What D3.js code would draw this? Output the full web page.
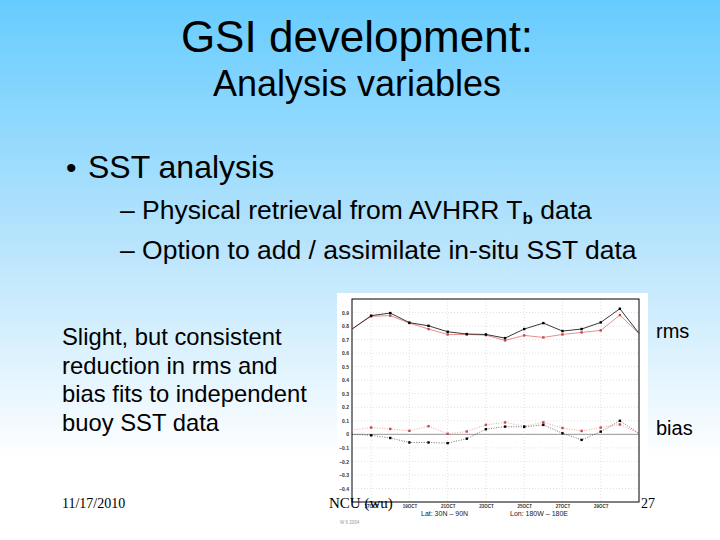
<!DOCTYPE html>
<html>
<head>
<meta charset="utf-8">
<script src="https://cdn.jsdelivr.net/npm/d3@7"></script>
<style>
  body { margin: 0; background: #fff; }
  svg text { font-family: "Liberation Sans", Arial, sans-serif; }
</style>
</head>
<body>
<div id="chartContainer"></div>
<script type="text/javascript">
    // days of October, one point per day
    var days = [16, 17, 18, 19, 20, 21, 22, 23, 24, 25, 26, 27, 28, 29, 30, 31];
    var tickDays = [17, 19, 21, 23, 25, 27, 29];
    var yTicks = [0.9, 0.8, 0.7, 0.6, 0.5, 0.4, 0.3, 0.2, 0.1, 0, -0.1, -0.2, -0.3, -0.4];

    // rms and bias vs buoy SST (black = control, red = with in-situ)
    var rmsBlack = [0.778, 0.877, 0.896, 0.825, 0.802, 0.758, 0.741, 0.738, 0.711, 0.778, 0.822, 0.763, 0.778, 0.827, 0.928, 0.746];
    var rmsRed   = [0.778, 0.872, 0.877, 0.822, 0.778, 0.738, 0.738, 0.733, 0.694, 0.731, 0.716, 0.738, 0.753, 0.768, 0.881, 0.745];
    var biasBlack = [0.0, -0.007, -0.027, -0.060, -0.060, -0.065, -0.032, 0.038, 0.057, 0.055, 0.070, 0.008, -0.041, 0.020, 0.100, 0.007];
    var biasRed   = [0.032, 0.050, 0.040, 0.026, 0.060, 0.004, 0.021, 0.070, 0.088, 0.060, 0.089, 0.047, 0.025, 0.050, 0.073, 0.007];

    var width = 720, height = 540;
    var svg = d3.select("#chartContainer").append("svg")
        .attr("width", width).attr("height", height);

    // slide background
    var grad = svg.append("defs").append("linearGradient")
        .attr("id", "bg").attr("x1", 0).attr("y1", 0).attr("x2", 0).attr("y2", 1);
    grad.append("stop").attr("offset", "0%").attr("stop-color", "#66ccff");
    grad.append("stop").attr("offset", "45%").attr("stop-color", "#b8e4fc");
    grad.append("stop").attr("offset", "85%").attr("stop-color", "#ffffff");
    svg.append("rect").attr("width", width).attr("height", height).attr("fill", "url(#bg)");

    // slide text
    svg.append("text").attr("x", 357).attr("y", 52).attr("text-anchor", "middle")
        .style("font-size", "44px").text("GSI development:");
    svg.append("text").attr("x", 357).attr("y", 96).attr("text-anchor", "middle")
        .style("font-size", "36px").text("Analysis variables");
    svg.append("text").attr("x", 66).attr("y", 178).style("font-size", "30px").text("\u2022");
    svg.append("text").attr("x", 88).attr("y", 178).style("font-size", "32px").text("SST analysis");

    var l1 = svg.append("text").attr("x", 120).attr("y", 219).style("font-size", "26.5px");
    l1.append("tspan").text("\u2013 Physical retrieval from AVHRR T");
    l1.append("tspan").attr("dy", 5).style("font-size", "17px").style("font-weight", "bold").text("b");
    l1.append("tspan").attr("dy", -5).text(" data");
    svg.append("text").attr("x", 120).attr("y", 259).style("font-size", "26.5px")
        .text("\u2013 Option to add / assimilate in-situ SST data");

    svg.selectAll("text.note")
      .data(["Slight, but consistent", "reduction in rms and", "bias fits to independent", "buoy SST data"])
      .enter().append("text")
        .attr("class", "note")
        .attr("x", 62)
        .attr("y", function (d, i) { return 345 + i * 28.5; })
        .style("font-size", "23.8px")
        .text(function (d) { return d; });

    // chart picture
    svg.append("rect").attr("x", 337).attr("y", 293).attr("width", 311).attr("height", 237).attr("fill", "#fff");

    var bounds = { x: 352, y: 299, width: 287, height: 203 };
    var x = d3.scaleLinear().domain([16, 31]).range([bounds.x, bounds.x + bounds.width]);
    var y = d3.scaleLinear().domain([-0.5, 1.0]).range([bounds.y + bounds.height, bounds.y]);

    var g = svg.append("g");

    // grid
    g.selectAll("line.hgrid").data(yTicks).enter().append("line")
        .attr("x1", bounds.x).attr("x2", bounds.x + bounds.width)
        .attr("y1", function (d) { return y(d); }).attr("y2", function (d) { return y(d); })
        .attr("stroke", "#ccc").attr("stroke-width", 0.6).attr("stroke-dasharray", "1,2");
    g.selectAll("line.vgrid").data(tickDays).enter().append("line")
        .attr("y1", bounds.y).attr("y2", bounds.y + bounds.height)
        .attr("x1", function (d) { return x(d); }).attr("x2", function (d) { return x(d); })
        .attr("stroke", "#ccc").attr("stroke-width", 0.6).attr("stroke-dasharray", "1,2");

    // zero line
    g.append("line").attr("x1", bounds.x).attr("x2", bounds.x + bounds.width)
        .attr("y1", y(0)).attr("y2", y(0)).attr("stroke", "#999").attr("stroke-width", 1);

    // axes
    var yAxis = d3.axisLeft(y).tickValues(yTicks).tickSize(0).tickPadding(3)
        .tickFormat(function (d) { return d === 0 ? "0" : d3.format(".1f")(d); });
    var ya = g.append("g").attr("transform", "translate(" + bounds.x + ",0)").call(yAxis);
    ya.select(".domain").remove();
    ya.selectAll("text").style("font-size", "5px").style("font-weight", "bold").attr("fill", "#333");

    var xAxis = d3.axisBottom(x).tickValues(tickDays).tickSize(0).tickPadding(3)
        .tickFormat(function (d) { return d + "OCT"; });
    var xa = g.append("g").attr("transform", "translate(0," + (bounds.y + bounds.height) + ")").call(xAxis);
    xa.select(".domain").remove();
    xa.selectAll("text").style("font-size", "4.5px").style("font-weight", "bold").attr("fill", "#333");

    g.append("rect").attr("x", bounds.x).attr("y", bounds.y)
        .attr("width", bounds.width).attr("height", bounds.height)
        .attr("fill", "none").attr("stroke", "#000").attr("stroke-width", 1);

    // series
    var series = [
        { vals: rmsRed, line: "#e88080", mark: "#c84848", dash: null, w: 0.9 },
        { vals: rmsBlack, line: "#222", mark: "#000", dash: null, w: 0.9 },
        { vals: biasRed, line: "#e88080", mark: "#c84848", dash: "1,1.5", w: 0.7 },
        { vals: biasBlack, line: "#333", mark: "#000", dash: "1,1.5", w: 0.7 }
    ];
    var line = d3.line()
        .x(function (d, i) { return x(days[i]); })
        .y(function (d) { return y(d); });

    series.forEach(function (s) {
        g.append("path").datum(s.vals)
            .attr("d", line).attr("fill", "none")
            .attr("stroke", s.line).attr("stroke-width", s.w)
            .attr("stroke-dasharray", s.dash);
        g.selectAll(null).data(s.vals.slice(1, -1)).enter().append("rect")
            .attr("x", function (d, i) { return x(days[i + 1]) - 1.2; })
            .attr("y", function (d) { return y(d) - 1.2; })
            .attr("width", 2.4).attr("height", 2.4)
            .attr("fill", s.mark);
    });

    // chart footer text
    svg.append("text").attr("x", 421).attr("y", 516).style("font-size", "7px").attr("fill", "#222")
        .text("Lat: 30N \u2013 90N");
    svg.append("text").attr("x", 510).attr("y", 516).style("font-size", "7px").attr("fill", "#222")
        .text("Lon: 180W \u2013 180E");
    svg.append("text").attr("x", 340).attr("y", 524).style("font-size", "4.5px").attr("fill", "#999")
        .text("W 6 2004");

    // slide footer
    svg.append("text").attr("x", 62).attr("y", 508).style("font-family", "Liberation Serif")
        .style("font-size", "14px").text("11/17/2010");
    svg.append("text").attr("x", 329).attr("y", 508).style("font-family", "Liberation Serif")
        .style("font-size", "15px").text("NCU (wu)");
    svg.append("text").attr("x", 641).attr("y", 508).style("font-family", "Liberation Serif")
        .style("font-size", "14px").text("27");

    svg.append("text").attr("x", 656).attr("y", 338).style("font-size", "20px").text("rms");
    svg.append("text").attr("x", 656).attr("y", 435).style("font-size", "20px").text("bias");
</script>
</body>
</html>
